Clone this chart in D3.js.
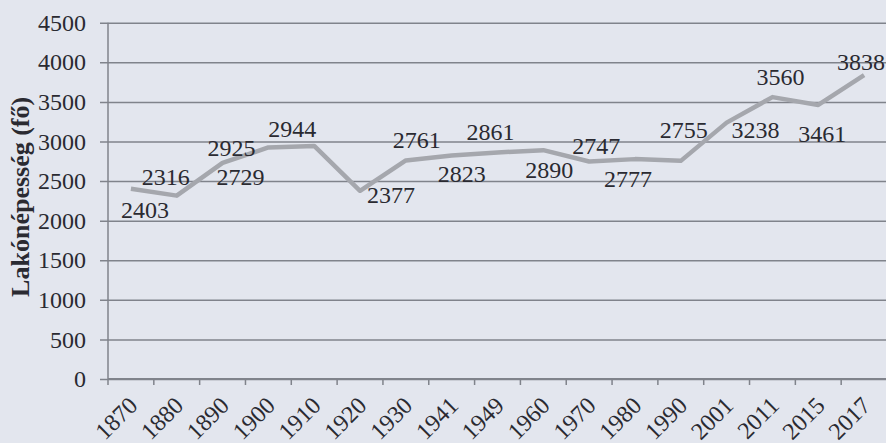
<!DOCTYPE html>
<html>
<head>
<meta charset="utf-8">
<script src="https://cdn.jsdelivr.net/npm/d3@7"></script>
<style>
  html, body { margin: 0; padding: 0; background: #e3e6ee; }
  svg { display: block; }
  text { font-family: 'Liberation Serif', 'Times New Roman', serif; fill: #2a2a31; }
</style>
</head>
<body>
<div id="chart"></div>
<script>
const years = ['1870', '1880', '1890', '1900', '1910', '1920', '1930', '1941', '1949',
  '1960', '1970', '1980', '1990', '2001', '2011', '2015', '2017'];
const population = [2403, 2316, 2729, 2925, 2944, 2377, 2761, 2823, 2861,
  2890, 2747, 2777, 2755, 3238, 3560, 3461, 3838];
const yTicks = [0, 500, 1000, 1500, 2000, 2500, 3000, 3500, 4000, 4500];
const yTitle = 'Lakónépesség (fő)';

// where each data label sits relative to its point (dx, baseline dy)
const labelOffsets = [
  [14, 29], [-11, -11], [18, 22], [-37, 9], [-22, -9], [31, 12], [11, -12], [10, 27],
  [-7, -12], [6, 28], [7, -7], [-7, 28], [3, -23], [29, 15], [8, -12], [4, 37], [-3, -5]
];

const width = 886;
const height = 443;
const plot = { left: 108, right: 887, top: 22.7, bottom: 379 };

const svg = d3.select('#chart').append('svg')
  .attr('width', width)
  .attr('height', height);

svg.append('rect')
  .attr('width', width)
  .attr('height', height)
  .attr('fill', '#e3e6ee');

const x = d3.scaleBand()
  .domain(years)
  .range([plot.left, plot.right])
  .padding(0);

const y = d3.scaleLinear()
  .domain([0, 4500])
  .range([plot.bottom, plot.top]);

const gridColor = '#80838b';

// gridlines + y tick labels
const yAxis = svg.append('g')
  .attr('transform', `translate(${plot.left - 8},0)`)
  .call(d3.axisLeft(y)
    .tickValues(yTicks)
    .tickFormat(d3.format('d'))
    .tickSizeInner(-(width - plot.left + 8))
    .tickSizeOuter(0)
    .tickPadding(14));
yAxis.select('.domain').remove();
yAxis.selectAll('.tick line').attr('stroke', gridColor).attr('stroke-width', 1.5);
yAxis.selectAll('.tick text')
  .style('font-size', '24px')
  .attr('fill', '#2a2a31');

// y axis line
svg.append('line')
  .attr('x1', plot.left).attr('x2', plot.left)
  .attr('y1', y(4500)).attr('y2', y(0))
  .attr('stroke', gridColor).attr('stroke-width', 1.5);

// x axis line and tick marks on band edges
svg.append('line')
  .attr('x1', plot.left).attr('x2', width)
  .attr('y1', y(0)).attr('y2', y(0))
  .attr('stroke', gridColor).attr('stroke-width', 1.8);

const edges = years.map(d => x(d)).concat([x(years[years.length - 1]) + x.bandwidth()]);
svg.append('g').selectAll('line')
  .data(edges)
  .enter().append('line')
  .attr('x1', d => d).attr('x2', d => d)
  .attr('y1', y(0)).attr('y2', y(0) + 6)
  .attr('stroke', gridColor).attr('stroke-width', 1.5);

// x tick labels
const xAxis = svg.append('g')
  .attr('transform', `translate(0,${y(0)})`)
  .call(d3.axisBottom(x).tickSize(0));
xAxis.select('.domain').remove();
xAxis.selectAll('.tick text')
  .style('font-size', '24px')
  .attr('fill', '#2a2a31')
  .attr('text-anchor', 'end')
  .attr('dy', null)
  .attr('y', null)
  .attr('transform', 'translate(8,28) rotate(-45)');

// line
const line = d3.line()
  .x((d, i) => x(years[i]) + x.bandwidth() / 2)
  .y(d => y(d));

svg.append('path')
  .datum(population)
  .attr('fill', 'none')
  .attr('stroke', '#a5a7ad')
  .attr('stroke-width', 4.5)
  .attr('stroke-linejoin', 'round')
  .attr('d', line);

// data labels
svg.append('g').selectAll('text')
  .data(population)
  .enter().append('text')
  .attr('x', (d, i) => x(years[i]) + x.bandwidth() / 2 + labelOffsets[i][0])
  .attr('y', (d, i) => y(d) + labelOffsets[i][1])
  .attr('text-anchor', 'middle')
  .style('font-size', '24px')
  .text(d => d);

// y title
svg.append('text')
  .attr('transform', `translate(29,${(y(0) + y(4500)) / 2 - 4}) rotate(-90)`)
  .attr('text-anchor', 'middle')
  .style('font-size', '26px')
  .style('font-weight', 'bold')
  .text(yTitle);
</script>
</body>
</html>
